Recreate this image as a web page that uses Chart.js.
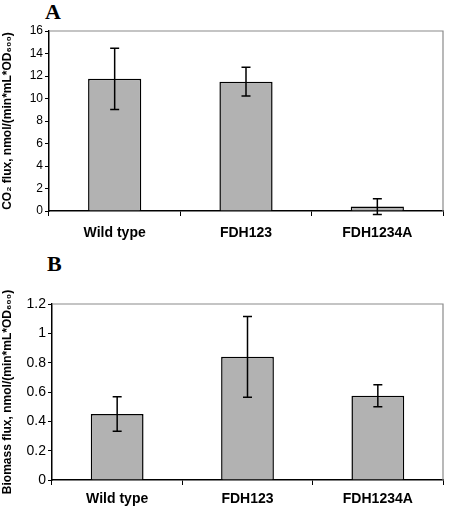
<!DOCTYPE html>
<html>
<head>
<meta charset="utf-8">
<script src="https://cdn.jsdelivr.net/npm/chart.js@4"></script>
<style>
body { margin:0; background:#fff; width:450px; height:506px; position:relative; overflow:hidden; }
canvas { position:absolute; left:0; }
.panel { position:absolute; font: bold 22px "Liberation Serif", serif; color:#000; }
</style>
</head>
<body>
<div class="panel" style="left:45px;top:-1px">A</div>
<canvas id="chartA" width="450" height="245" style="top:0"></canvas>
<div class="panel" style="left:47px;top:251px">B</div>
<canvas id="chartB" width="450" height="261" style="top:245px"></canvas>
<script>
const strains = ['Wild type', 'FDH123', 'FDH1234A'];
const co2Flux = [11.75, 11.5, 0.4];
const co2Err = [2.72, 1.27, 0.7];
const biomassFlux = [0.45, 0.84, 0.575];
const biomassErr = [0.117, 0.275, 0.075];
const co2Ticks = [0, 2, 4, 6, 8, 10, 12, 14, 16];
const biomassTicks = [0, 0.2, 0.4, 0.6, 0.8, 1, 1.2];

// error bars + top/right frame
const errorBars = {
    id: 'errorBars',
    afterDatasetsDraw(chart) {
        const ctx = chart.ctx;
        const y = chart.scales.y;
        const ds = chart.data.datasets[0];
        const meta = chart.getDatasetMeta(0);
        ctx.save();
        ctx.strokeStyle = '#000';
        ctx.lineWidth = 1.5;
        meta.data.forEach((bar, i) => {
            const v = ds.data[i], e = ds.errors[i];
            const yTop = y.getPixelForValue(v + e);
            const yBot = y.getPixelForValue(v - e);
            ctx.beginPath();
            ctx.moveTo(bar.x, yTop); ctx.lineTo(bar.x, yBot);
            ctx.moveTo(bar.x - 4.5, yTop); ctx.lineTo(bar.x + 4.5, yTop);
            ctx.moveTo(bar.x - 4.5, yBot); ctx.lineTo(bar.x + 4.5, yBot);
            ctx.stroke();
        });
        const a = chart.chartArea;
        ctx.strokeStyle = '#8a8a8a';
        ctx.lineWidth = 1.2;
        ctx.beginPath();
        ctx.moveTo(a.left, a.top); ctx.lineTo(a.right, a.top); ctx.lineTo(a.right, a.bottom);
        ctx.stroke();
        ctx.restore();
    }
};

function makeChart(id, values, errs, ticks, max, yTitle, tickSize, axisW, axisH, padTop, xPad) {
    return new Chart(document.getElementById(id), {
        type: 'bar',
        data: {
            labels: strains,
            datasets: [{
                data: values,
                errors: errs,
                backgroundColor: '#b2b2b2',
                borderColor: '#000',
                borderWidth: 1.5,
                barPercentage: 0.405,
                categoryPercentage: 1
            }]
        },
        options: {
            responsive: false,
            animation: false,
            layout: { padding: { top: padTop, right: 7, left: 0, bottom: 0 } },
            plugins: { legend: { display: false }, tooltip: { enabled: false } },
            scales: {
                x: {
                    offset: true,
                    grid: { offset: true, drawOnChartArea: false, tickLength: 5, color: '#000' },
                    border: { color: '#000', width: 1.5 },
                    ticks: { color: '#000', padding: xPad, font: { family: 'Liberation Sans', size: 14, weight: 'bold' } },
                    afterFit(s) { s.height = axisH; }
                },
                y: {
                    min: 0,
                    max: max,
                    afterBuildTicks(s) { s.ticks = ticks.map(v => ({ value: v })); },
                    grid: { drawOnChartArea: false, tickLength: 4, color: '#000' },
                    border: { color: '#000', width: 1.5 },
                    ticks: { color: '#000', padding: 2, font: { family: 'Liberation Sans', size: tickSize },
                             callback: v => String(v) },
                    title: { display: true, text: yTitle, color: '#000', padding: 0,
                             font: { family: 'Liberation Sans', size: 12, weight: 'bold' } },
                    afterFit(s) { s.width = axisW; }
                }
            }
        },
        plugins: [errorBars]
    });
}

makeChart('chartA', co2Flux, co2Err, co2Ticks, 16,
    'CO\u2082 flux, nmol/(min*mL*OD\u2086\u2080\u2080)', 12, 49, 34, 31, 9);
makeChart('chartB', biomassFlux, biomassErr, biomassTicks, 1.2,
    'Biomass flux, nmol/(min*mL*OD\u2086\u2080\u2080)', 14, 52, 26, 59, 6);
</script>
</body>
</html>
